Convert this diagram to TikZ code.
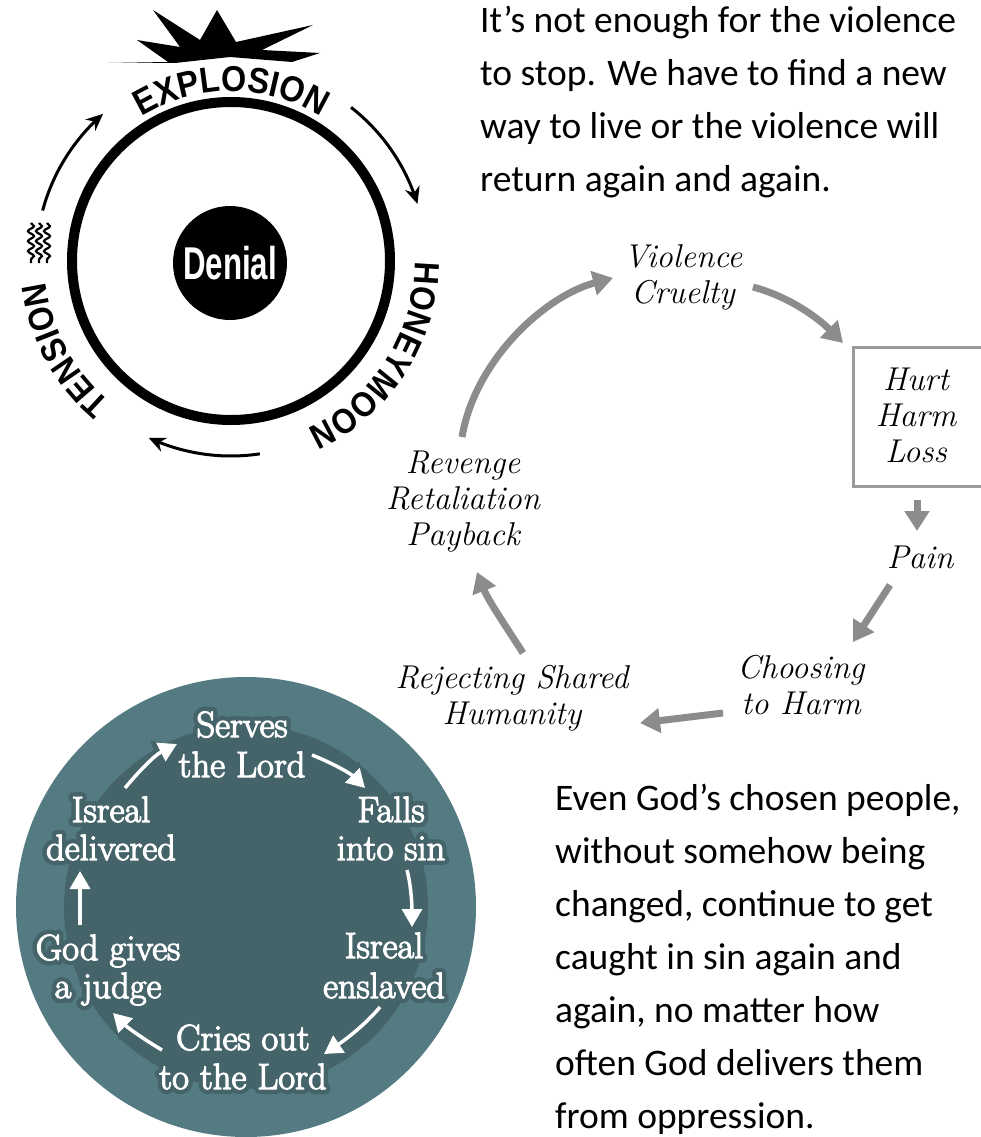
\documentclass[tikz,border=0pt]{standalone}
\usepackage{fontspec}
\usetikzlibrary{arrows.meta,decorations.text,decorations.pathmorphing}
\newfontfamily\parafont{Carlito}
\newfontfamily\sansb{Liberation Sans}[FakeStretch=0.9]
\newfontfamily\denialfont{Liberation Sans}[FakeStretch=0.68]
\definecolor{tealout}{HTML}{537B81}
\definecolor{tealin}{HTML}{44646A}
\definecolor{arrgray}{HTML}{8C8C8C}
\definecolor{boxgray}{HTML}{9A9A9A}
\tikzset{
 para/.style={font=\parafont\fontsize{37.5}{53}\selectfont, align=left, inner sep=0pt, anchor=north west},
 hand/.style={font=\itshape\fontsize{33}{36}\selectfont, align=center, inner sep=0pt},
 garrow/.style={draw=arrgray, line width=7pt, -{Triangle[length=20pt,width=24pt]}},
 barrow/.style={draw=black, line width=3pt, -{Stealth[length=17pt,width=15pt]}},
 warrow/.style={draw=white, line width=3.5pt, -{Triangle[length=18pt,width=20pt]},
   preaction={draw=tealin, line width=10pt, -{Triangle[length=23pt,width=28pt]}}},
 tealtxt/.style={font=\fontsize{36.5}{40}\selectfont, inner sep=0pt, anchor=base},
}
\newcommand\tline[3]{%
 \node[tealtxt,text=tealin] (#1h) at #2 {\special{pdf:literal direct 1 j 1 J 10 w 2 Tr}#3\special{pdf:literal direct 0 Tr}};%
 \node[tealtxt,text=white] (#1) at #2 {\special{pdf:literal direct 1 j 1.2 w 2 Tr}#3\special{pdf:literal direct 0 Tr}};}
\begin{document}
\begin{tikzpicture}[x=1pt,y=-1pt]
\useasboundingbox (0,0) rectangle (981,1137);
% ---------- top-left cycle ----------
\draw[line width=10pt] (231,261) circle[radius=159pt];
\node[circle, fill=black, minimum size=114pt, inner sep=0pt] (denial) at (230,263) {};
\node[text=white, font=\denialfont\bfseries\fontsize{46}{46}\selectfont] (denialtxt) at (230,263) {Denial};
\fill (108,63) -- (168,62) -- (137,40) -- (180,47) -- (153,10) -- (200,40) -- (217,10) -- (236,42)
  -- (313,25) -- (262,50) -- (320,53) -- (292,62) -- (230,57) -- (175,63) -- cycle;
\path[decorate, decoration={text along path, text align=center,
  text={|\sansb\bfseries\fontsize{36}{36}\selectfont|EXPLOSION}}]
  plot[domain=215:325,samples=60] ({231+170*cos(\x)},{261+170*sin(\x)});
\path[decorate, decoration={text along path, text align=center,
  text={|\sansb\bfseries\fontsize{35}{35}\selectfont|TENSION}}]
  plot[domain=105:199,samples=60] ({231+186*cos(\x)},{261+186*sin(\x)});
\path[decorate, decoration={text along path, text align=center,
  text={|\sansb\bfseries\fontsize{35}{35}\selectfont|HONEYMOON}}]
  plot[domain=-25:91,samples=60] ({231+184*cos(\x)},{261+184*sin(\x)});
\draw[barrow] plot[domain=195:229,samples=30] ({231+195*cos(\x)},{261+195*sin(\x)});
\draw[barrow] plot[domain=308:343,samples=30] ({231+195*cos(\x)},{261+195*sin(\x)});
\draw[barrow] plot[domain=81.5:115,samples=30] ({231+195*cos(\x)},{261+195*sin(\x)});
\foreach \xx in {31,39,47}{
  \draw[line width=2.2pt, decorate, decoration={snake, amplitude=3pt, segment length=10pt}] (\xx,223) -- (\xx,263);}
% ---------- paragraphs ----------
\node[para] (p1) at (480,6) {It’s not enough for the violence\\to stop. We have to find a new\\way to live or the violence will\\return again and again.};
\node[para] (p2) at (555,784) {Even God’s chosen people,\\without somehow being\\changed, continue to get\\caught in sin again and\\again, no matter how\\often God delivers them\\from oppression.};
% ---------- violence cycle ----------
\node[draw=boxgray, line width=2.5pt, minimum width=143pt, minimum height=139pt, anchor=north west, inner sep=0pt] (box) at (852,346) {};
\node[hand] (viol) at (683,277) {Violence\\Cruelty};
\node[hand] (hurt) at (916,415) {Hurt\\Harm\\Loss};
\node[hand] (pain) at (920,557) {Pain};
\node[hand] (choose) at (801,685) {Choosing\\to Harm};
\node[hand] (reject) at (512,698) {Rejecting Shared\\Humanity};
\node[hand] (revenge) at (463,502) {Revenge\\Retaliation\\Payback};
\coordinate (rv1) at (462,437); \coordinate (vi1) at (613,278);
\coordinate (vi2) at (753,287); \coordinate (bx1) at (843,343);
\coordinate (bx2) at (917,500); \coordinate (pa1) at (917,531);
\coordinate (pa2) at (890,585); \coordinate (ch1) at (853,642);
\coordinate (ch2) at (723,713); \coordinate (rj1) at (640,723);
\coordinate (rj2) at (523,653); \coordinate (rv2) at (477,572);
\draw[garrow] (rv1) .. controls (475,360) and (545,296) .. (vi1);
\draw[garrow] (vi2) .. controls (790,297) and (818,318) .. (bx1);
\draw[garrow] (bx2) -- (pa1);
\draw[garrow] (pa2) -- (ch1);
\draw[garrow] (ch2) -- (rj1);
\draw[garrow] (rj2) .. controls (505,625) and (488,600) .. (rv2);
% ---------- teal cycle ----------
\fill[tealout] (246,907) circle[radius=230pt];
\fill[tealin] (246,907) circle[radius=182pt];
\coordinate (t1a) at (125,788); \coordinate (t1b) at (177,744);
\coordinate (t2a) at (312,755); \coordinate (t2b) at (365,788);
\coordinate (t3a) at (407,870); \coordinate (t3b) at (412,927);
\coordinate (t4a) at (380,1007); \coordinate (t4b) at (324,1054);
\coordinate (t5a) at (162,1050); \coordinate (t5b) at (113,1013);
\coordinate (t6a) at (80,925); \coordinate (t6b) at (80,871);
\draw[warrow] (t1a) .. controls (140,770) and (155,755) .. (t1b);
\draw[warrow] (t2a) .. controls (330,762) and (350,773) .. (t2b);
\draw[warrow] (t3a) .. controls (411,885) and (412,905) .. (t3b);
\draw[warrow] (t4a) .. controls (365,1025) and (345,1040) .. (t4b);
\draw[warrow] (t5a) .. controls (145,1040) and (128,1028) .. (t5b);
\draw[warrow] (t6a) -- (t6b);
\tline{serA}{(242,737)}{Serves}
\tline{serB}{(242,777)}{the Lord}
\tline{falA}{(391,822)}{Falls}
\tline{falB}{(391,860)}{into sin}
\tline{delA}{(111,822)}{Isreal}
\tline{delB}{(111,860)}{delivered}
\tline{godA}{(108,960)}{God gives}
\tline{godB}{(108,998)}{a judge}
\tline{ensA}{(384,958)}{Isreal}
\tline{ensB}{(384,998)}{enslaved}
\tline{criA}{(243,1050)}{Cries out}
\tline{criB}{(243,1089)}{to the Lord}
\end{tikzpicture}
\end{document}
